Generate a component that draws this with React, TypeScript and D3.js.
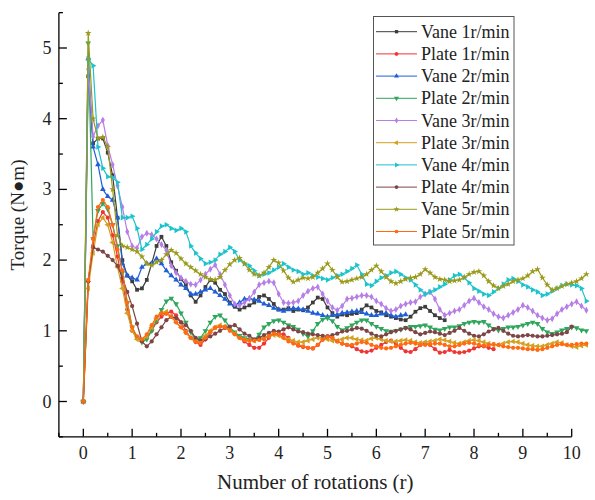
import React from "react";
import * as d3 from "d3";

// rotations sampled every 0.1 r
const STEP = 0.1;

const VANE1 = [0, 4.6, 3.65, 3.72, 3.72, 3.52, 3.2, 2.6, 2.0, 1.78, 1.7, 1.58, 1.6, 1.72, 1.95, 2.2, 2.33, 2.2, 1.97, 1.85,
  1.73, 1.65, 1.5, 1.41, 1.5, 1.62, 1.72, 1.68, 1.58, 1.52, 1.4, 1.34, 1.3, 1.33, 1.36, 1.4, 1.48, 1.5, 1.45, 1.38,
  1.3, 1.3, 1.32, 1.28, 1.3, 1.29, 1.33, 1.4, 1.47, 1.45, 1.33, 1.25, 1.2, 1.23, 1.22, 1.24, 1.25, 1.3, 1.36, 1.33,
  1.28, 1.26, 1.22, 1.2, 1.18, 1.16, 1.15, 1.2, 1.27, 1.32, 1.34, 1.28, 1.22, 1.18, 1.15];

const PLATE1 = [0, 1.7, 2.2, 2.55, 2.68, 2.6, 2.35, 2.05, 1.7, 1.3, 1.0, 0.9, 0.87, 0.9, 1.0, 1.12, 1.2, 1.25, 1.27, 1.22,
  1.12, 1.0, 0.9, 0.84, 0.8, 0.88, 0.98, 1.05, 1.06, 1.06, 1.02, 0.96, 0.9, 0.85, 0.8, 0.76, 0.76, 0.82, 0.9, 0.96,
  0.96, 0.95, 0.9, 0.84, 0.79, 0.77, 0.76, 0.75, 0.8, 0.88, 0.92, 0.9, 0.85, 0.82, 0.8, 0.78, 0.74, 0.71, 0.7, 0.72,
  0.76, 0.8, 0.84, 0.86, 0.82, 0.76, 0.71, 0.7, 0.74, 0.8, 0.83, 0.8, 0.74, 0.69, 0.7, 0.73, 0.7, 0.69, 0.7, 0.72,
  0.75, 0.78, 0.78, 0.76, 0.74];

const VANE2 = [0, 4.85, 3.6, 3.35, 3.0, 2.9, 2.85, 2.6, 1.95, 1.78, 1.75, 1.72, 1.9, 1.95, 1.95, 2.02, 1.95, 1.85, 1.78, 1.72,
  1.65, 1.6, 1.52, 1.52, 1.55, 1.58, 1.6, 1.55, 1.5, 1.45, 1.38, 1.36, 1.4, 1.45, 1.46, 1.44, 1.42, 1.38, 1.36, 1.32,
  1.3, 1.28, 1.3, 1.32, 1.31, 1.3, 1.28, 1.25, 1.24, 1.22, 1.2, 1.22, 1.23, 1.25, 1.26, 1.27, 1.28, 1.26, 1.24, 1.22,
  1.22, 1.24, 1.25, 1.22, 1.2, 1.22, 1.23];

const PLATE2 = [0, 5.07, 2.3, 2.7, 2.8, 2.72, 2.5, 2.2, 1.82, 1.4, 1.05, 0.9, 0.84, 0.88, 1.0, 1.15, 1.3, 1.42, 1.46, 1.38,
  1.25, 1.12, 0.98, 0.88, 0.9, 1.0, 1.12, 1.2, 1.22, 1.15, 1.05, 0.98, 0.93, 0.9, 0.88, 0.87, 0.95, 1.05, 1.1, 1.14,
  1.15, 1.12, 1.08, 1.06, 1.02, 0.96, 0.92, 1.0, 1.1, 1.16, 1.18, 1.14, 1.06, 1.01, 1.04, 1.08, 1.12, 1.15, 1.15, 1.1,
  1.06, 1.03, 1.0, 0.99, 1.0, 1.02, 1.04, 1.06, 1.06, 1.07, 1.08, 1.05, 1.02, 1.01, 1.03, 1.05, 1.05, 1.07, 1.1, 1.12,
  1.13, 1.12, 1.13, 1.08, 1.03, 1.01, 1.03, 1.05, 1.05, 1.06, 1.08, 1.1, 1.12, 1.1, 1.03, 0.98, 0.96, 0.98, 1.01, 1.03,
  1.05, 1.04, 1.01, 1.0];

const VANE3 = [0, 4.7, 3.75, 3.9, 3.98, 3.62, 3.35, 3.05, 2.75, 2.4, 2.2, 2.17, 2.33, 2.38, 2.36, 2.3, 2.22, 2.14, 1.92, 1.82,
  1.75, 1.7, 1.66, 1.65, 1.72, 1.8, 1.87, 1.93, 1.8, 1.65, 1.5, 1.38, 1.36, 1.4, 1.45, 1.55, 1.65, 1.68, 1.7, 1.68,
  1.52, 1.4, 1.39, 1.4, 1.42, 1.5, 1.56, 1.6, 1.62, 1.52, 1.42, 1.33, 1.29, 1.35, 1.45, 1.46, 1.48, 1.5, 1.5, 1.48,
  1.42, 1.38, 1.32, 1.28, 1.3, 1.35, 1.38, 1.4, 1.41, 1.48, 1.52, 1.55, 1.45, 1.3, 1.22, 1.25, 1.28, 1.3, 1.36, 1.42,
  1.46, 1.4, 1.34, 1.3, 1.24, 1.2, 1.18, 1.22, 1.26, 1.3, 1.36, 1.33, 1.28, 1.22, 1.18, 1.15, 1.17, 1.24, 1.3, 1.34,
  1.38, 1.41, 1.35, 1.29];

const PLATE3 = [0, 1.6, 2.1, 2.5, 2.6, 2.5, 2.25, 1.9, 1.6, 1.25, 1.0, 0.88, 0.85, 0.92, 1.05, 1.18, 1.25, 1.27, 1.2, 1.12,
  1.05, 0.98, 0.9, 0.85, 0.86, 0.93, 1.0, 1.05, 1.08, 1.06, 1.02, 0.96, 0.9, 0.88, 0.86, 0.86, 0.88, 0.9, 0.92, 0.94,
  0.93, 0.9, 0.88, 0.86, 0.84, 0.84, 0.86, 0.88, 0.9, 0.9, 0.88, 0.86, 0.86, 0.88, 0.9, 0.9, 0.88, 0.87, 0.86, 0.89,
  0.9, 0.88, 0.86, 0.85, 0.85, 0.86, 0.87, 0.86, 0.84, 0.83, 0.84, 0.85, 0.86, 0.88, 0.87, 0.85, 0.83, 0.82, 0.84, 0.86,
  0.87, 0.86, 0.84, 0.82, 0.8, 0.8, 0.82, 0.84, 0.85, 0.84, 0.82, 0.8, 0.79, 0.78, 0.78, 0.8, 0.82, 0.84, 0.83, 0.8,
  0.78, 0.77, 0.79, 0.8];

const VANE4 = [0, 4.85, 4.75, 3.6, 3.3, 3.18, 3.17, 3.1, 2.6, 2.6, 2.62, 2.45, 2.15, 2.22, 2.3, 2.4, 2.48, 2.5, 2.45, 2.42,
  2.45, 2.4, 2.2, 2.1, 2.02, 1.95, 1.97, 2.0, 2.08, 2.12, 2.18, 2.12, 2.0, 1.95, 1.92, 1.85, 1.78, 1.8, 1.82, 1.86,
  1.9, 1.95, 1.9, 1.86, 1.84, 1.8, 1.82, 1.78, 1.76, 1.74, 1.72, 1.75, 1.78, 1.8, 1.84, 1.88, 1.93, 1.8, 1.66, 1.64,
  1.7, 1.75, 1.78, 1.82, 1.84, 1.8, 1.75, 1.72, 1.65, 1.58, 1.52, 1.55, 1.58, 1.62, 1.66, 1.72, 1.78, 1.8, 1.75, 1.68,
  1.6, 1.56, 1.52, 1.5, 1.55, 1.6, 1.66, 1.72, 1.74, 1.7, 1.65, 1.62, 1.58, 1.55, 1.5, 1.52, 1.56, 1.6, 1.64, 1.66,
  1.65, 1.64, 1.6, 1.42];

const PLATE4 = [0, 1.7, 2.18, 2.15, 2.12, 2.06, 2.0, 1.92, 1.75, 1.55, 1.35, 1.1, 0.85, 0.78, 0.85, 0.95, 1.05, 1.15, 1.2, 1.18,
  1.12, 1.08, 1.0, 0.9, 0.86, 0.88, 0.92, 0.96, 1.0, 1.04, 1.06, 1.08, 1.02, 0.96, 0.93, 0.88, 0.9, 0.94, 0.97, 1.0,
  0.99, 1.02, 1.05, 1.02, 0.99, 0.98, 0.96, 0.95, 0.94, 0.93, 0.92, 0.94, 0.96, 0.99, 1.0, 1.02, 1.04, 1.03, 1.0, 0.96,
  0.93, 0.92, 0.95, 0.98, 1.0, 1.02, 1.04, 1.02, 0.98, 0.95, 0.97, 0.99, 0.98, 0.96, 0.94, 0.97, 1.0, 1.04, 1.0, 0.96,
  0.93, 0.92, 0.95, 0.99, 1.02, 1.04, 1.0, 0.96, 0.93, 0.92, 0.93, 0.94, 0.93, 0.92, 0.92, 0.93, 0.94, 0.95, 0.96, 0.98,
  1.06];

const VANE5 = [0, 5.21, 4.0, 3.72, 3.74, 3.6, 3.0, 2.35, 2.2, 2.18, 2.15, 2.12, 2.05, 1.95, 1.93, 1.97, 2.0, 2.08, 2.14, 2.1,
  2.02, 1.95, 1.9, 1.85, 1.8, 1.76, 1.73, 1.72, 1.76, 1.86, 1.94, 2.0, 2.03, 1.95, 1.86, 1.8, 1.78, 1.82, 1.9, 2.0,
  1.96, 1.85, 1.75, 1.69, 1.72, 1.75, 1.74, 1.76, 1.82, 1.88, 1.95, 1.86, 1.76, 1.69, 1.7, 1.72, 1.74, 1.76, 1.8, 1.86,
  1.92, 1.84, 1.76, 1.7, 1.67, 1.7, 1.73, 1.75, 1.76, 1.8, 1.87, 1.82, 1.76, 1.73, 1.72, 1.7, 1.71, 1.72, 1.76, 1.8,
  1.83, 1.84, 1.78, 1.7, 1.64, 1.6, 1.63, 1.66, 1.7, 1.72, 1.74, 1.78, 1.84, 1.87, 1.75, 1.65, 1.58, 1.6, 1.63, 1.66,
  1.68, 1.7, 1.74, 1.8];

const PLATE5 = [0, 1.72, 2.3, 2.75, 2.85, 2.75, 2.5, 2.15, 1.85, 1.4, 1.05, 0.92, 0.88, 0.95, 1.08, 1.2, 1.25, 1.24, 1.2, 1.12,
  1.05, 0.97, 0.9, 0.85, 0.83, 0.9, 0.98, 1.04, 1.06, 1.05, 1.0, 0.95, 0.9, 0.87, 0.86, 0.86, 0.87, 0.88, 0.93, 0.96,
  0.95, 0.9, 0.85, 0.82, 0.8, 0.78, 0.76, 0.75, 0.8, 0.87, 0.91, 0.9, 0.85, 0.82, 0.8, 0.8, 0.82, 0.84, 0.83, 0.8,
  0.78, 0.76, 0.75, 0.76, 0.78, 0.8, 0.82, 0.83, 0.82, 0.8, 0.8, 0.81, 0.82, 0.82, 0.8, 0.78, 0.78, 0.8, 0.82, 0.83,
  0.82, 0.8, 0.79, 0.8, 0.81, 0.8, 0.78, 0.77, 0.76, 0.76, 0.75, 0.74, 0.74, 0.73, 0.74, 0.76, 0.78, 0.8, 0.81, 0.8,
  0.8, 0.81, 0.82, 0.82];

const SERIES_NAMES = ["Vane 1r/min", "Plate 1r/min", "Vane 2r/min", "Plate 2r/min", "Vane 3r/min",
  "Plate 3r/min", "Vane 4r/min", "Plate 4r/min", "Vane 5r/min", "Plate 5r/min"];
const SERIES_VALUES = [VANE1, PLATE1, VANE2, PLATE2, VANE3, PLATE3, VANE4, PLATE4, VANE5, PLATE5];
const COLORS = ["#3d3d3d", "#f03434", "#1f5fd6", "#2fa65c", "#b67ee6", "#d4a020", "#1cc3cc", "#7c4646", "#9a9a1c", "#ff6a12"];

const X_TICKS = [0, 1, 2, 3, 4, 5, 6, 7, 8, 9, 10];
const Y_TICKS = [0, 1, 2, 3, 4, 5];

const FONT = "Liberation Serif, Times New Roman, serif";

function markerPath(i: number, size: number): { d: string; rot: number } {
  const sym = [
    d3.symbolSquare, d3.symbolCircle, d3.symbolTriangle, d3.symbolTriangle, d3.symbolDiamond,
    d3.symbolTriangle, d3.symbolTriangle, d3.symbolCircle, d3.symbolStar, d3.symbolCircle,
  ][i];
  const rot = [0, 0, 0, 180, 0, -90, 90, 0, 0, 0][i];
  return { d: d3.symbol().type(sym).size(size)() as string, rot };
}

export default function App() {
  const W = 595, H = 500;
  const x = d3.scaleLinear().domain([-0.5, 10]).range([58.9, 571.7]);
  const y = d3.scaleLinear().domain([-0.5, 5.5]).range([436.85, 12.65]);
  const line = d3.line<number>().x((_, i) => x(i * STEP)).y((v) => y(v));

  const minorX = d3.range(-0.5, 10.01, 0.5).filter((t) => Math.abs(t - Math.round(t)) > 0.01);
  const minorY = d3.range(-0.5, 5.51, 0.5).filter((t) => Math.abs(t - Math.round(t)) > 0.01);

  const legX = 373.5, legY = 16.5, legW = 140.5, legH = 228.5;

  return (
    <svg width={W} height={H} style={{ position: "absolute", left: 0, top: 0, background: "#fff", fontFamily: FONT }}>
      <rect x={0} y={0} width={W} height={H} fill="#fff" />
      {SERIES_VALUES.map((vals, si) => {
        const m = markerPath(si, 14);
        return (
          <g key={si}>
            <path d={line(vals) as string} fill="none" stroke={COLORS[si]} strokeWidth={1.2} />
            {vals.map((v, i) => (
              <path key={i} d={m.d} fill={COLORS[si]}
                transform={`translate(${x(i * STEP)},${y(v)}) rotate(${m.rot})`} />
            ))}
          </g>
        );
      })}
      {/* axes */}
      <line x1={x(-0.5)} x2={x(10)} y1={y(-0.5)} y2={y(-0.5)} stroke="#000" strokeWidth={1.3} />
      <line x1={x(-0.5)} x2={x(-0.5)} y1={y(-0.5)} y2={y(5.5)} stroke="#000" strokeWidth={1.3} />
      {X_TICKS.map((t) => (
        <g key={t}>
          <line x1={x(t)} x2={x(t)} y1={y(-0.5)} y2={y(-0.5) - 8} stroke="#000" strokeWidth={1.3} />
          <text x={x(t)} y={459} fontSize={18} textAnchor="middle" fill="#222">{t}</text>
        </g>
      ))}
      {minorX.map((t) => (
        <line key={t} x1={x(t)} x2={x(t)} y1={y(-0.5)} y2={y(-0.5) - 4} stroke="#000" strokeWidth={1.3} />
      ))}
      {Y_TICKS.map((t) => (
        <g key={t}>
          <line x1={x(-0.5)} x2={x(-0.5) + 8} y1={y(t)} y2={y(t)} stroke="#000" strokeWidth={1.3} />
          <text x={51.5} y={y(t) + 6} fontSize={18} textAnchor="end" fill="#222">{t}</text>
        </g>
      ))}
      {minorY.map((t) => (
        <line key={t} x1={x(-0.5)} x2={x(-0.5) + 4} y1={y(t)} y2={y(t)} stroke="#000" strokeWidth={1.3} />
      ))}
      <text x={315.3} y={489} fontSize={21} textAnchor="middle" fill="#222">Number of rotations (r)</text>
      <text transform="translate(24,215) rotate(-90)" fontSize={19} textAnchor="middle" fill="#222">Torque (N●m)</text>
      {/* legend */}
      <rect x={legX} y={legY} width={legW} height={legH} fill="#fff" stroke="#555" strokeWidth={1} />
      {SERIES_NAMES.map((name, i) => {
        const cy = 31.7 + i * 22.2;
        const m = markerPath(i, 11);
        return (
          <g key={name}>
            <line x1={376} x2={417} y1={cy} y2={cy} stroke={COLORS[i]} strokeWidth={1} />
            <path d={m.d} fill={COLORS[i]} transform={`translate(396.5,${cy}) rotate(${m.rot})`} />
            <text x={421} y={cy + 6} fontSize={18} fill="#222">{name}</text>
          </g>
        );
      })}
    </svg>
  );
}
